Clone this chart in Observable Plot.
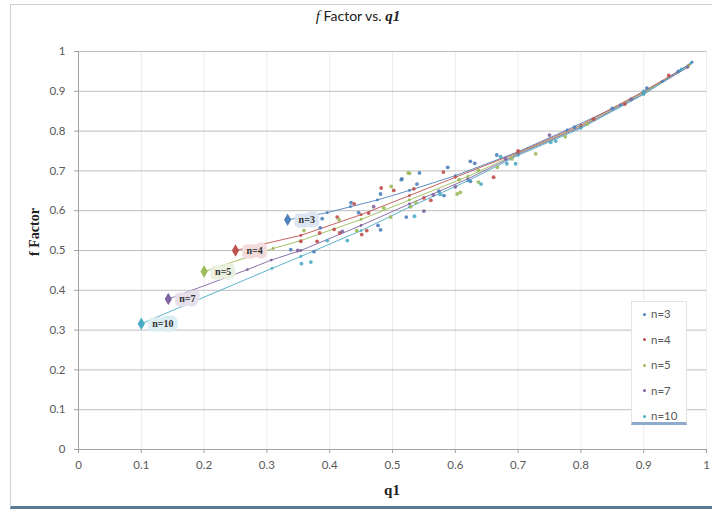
<!DOCTYPE html>
<html><head><meta charset="utf-8">
<script src="https://cdn.jsdelivr.net/npm/d3@7"></script>
<script src="https://cdn.jsdelivr.net/npm/@observablehq/plot@0.6"></script>
<style>
body{margin:0;background:#fff;}
#wrap{position:relative;width:712px;height:512px;overflow:hidden;font-family:Lato,"Open Sans",sans-serif;}
#frame{position:absolute;left:10px;top:4px;width:704px;height:505px;border:1px solid #cfcfcf;border-bottom:3px solid #5b7896;box-sizing:border-box;}
#chart{position:absolute;left:0;top:0;}
#title{position:absolute;left:4px;width:708px;top:7px;text-align:center;font-size:14px;color:#222;}
.serif{font-family:"Liberation Serif","DejaVu Serif",serif;}
#ylab{position:absolute;left:35px;top:232px;transform:translate(-50%,-50%) rotate(-90deg);font-size:14px;font-weight:bold;color:#222;white-space:nowrap;}
#xlab{position:absolute;left:392px;top:490px;transform:translate(-50%,-50%);font-size:15px;font-weight:bold;color:#222;}
#legend{position:absolute;left:631px;top:301px;width:56px;height:124px;background:#fff;border:1px solid #e4e4e4;border-bottom:3px solid #8eabcd;box-sizing:border-box;font-size:11.5px;color:#595959;}
.li{position:absolute;left:0;height:14px;line-height:14px;white-space:nowrap;}
.li span.d{display:inline-block;width:3px;height:3px;border-radius:50%;margin:0 5px 2px 11px;vertical-align:middle;}
</style></head>
<body>
<div id="wrap">
<div id="frame"></div>
<div id="chart"></div>
<div id="title"><i class="serif" style="font-size:15px">f</i> Factor vs. <b><i class="serif" style="font-size:15px">q1</i></b></div>
<div id="ylab" class="serif">f Factor</div>
<div id="xlab" class="serif">q1</div>
<div id="legend"></div>
</div>
<script>
const seriesNames = ["n=3","n=4","n=5","n=7","n=10"];
const seriesColors = ["#4F81BD","#C0504D","#9BBB59","#8064A2","#4BACC6"];
const labelFills = ["#dce6f2","#f2dcdb","#ebf1de","#e5e0ec","#dbeef3"];
const xTicks = [0,0.1,0.2,0.3,0.4,0.5,0.6,0.7,0.8,0.9,1];
const xTickLabels = ["0","0.1","0.2","0.3","0.4","0.5","0.6","0.7","0.8","0.9","1"];
const yTicks = [0,0.1,0.2,0.3,0.4,0.5,0.6,0.7,0.8,0.9,1];
const yTickLabels = ["0","0.1","0.2","0.3","0.4","0.5","0.6","0.7","0.8","0.9","1"];

// start points (labelled diamonds)
const startQ = [0.333,0.25,0.2,0.143,0.1];
const startF = [0.577,0.5,0.447,0.378,0.316];

// line series (q1, f)
const lineN3 = [[0.333,0.577],[0.396,0.595],[0.433,0.61],[0.476,0.627],[0.527,0.651],[0.6,0.688],[0.7,0.748],[0.778,0.803],[0.863,0.866],[0.93,0.925],[0.977,0.973]];
const lineN4 = [[0.25,0.5],[0.354,0.538],[0.45,0.59],[0.527,0.638],[0.6,0.684],[0.7,0.746],[0.8,0.815],[0.9,0.9],[0.972,0.966]];
const lineN5 = [[0.2,0.447],[0.31,0.505],[0.354,0.525],[0.45,0.578],[0.527,0.627],[0.62,0.686],[0.7,0.744],[0.8,0.812],[0.9,0.897],[0.972,0.964]];
const lineN7 = [[0.143,0.378],[0.269,0.452],[0.307,0.476],[0.354,0.5],[0.45,0.563],[0.527,0.617],[0.62,0.68],[0.7,0.742],[0.8,0.81],[0.9,0.894],[0.97,0.96]];
const lineN10 = [[0.1,0.316],[0.308,0.455],[0.354,0.485],[0.45,0.55],[0.527,0.609],[0.62,0.675],[0.7,0.739],[0.8,0.807],[0.9,0.892],[0.975,0.97]];

// scatter points (q1, f)
const scatterN3 = [[0.338,0.502],[0.375,0.497],[0.388,0.58],[0.385,0.557],[0.434,0.62],[0.446,0.595],[0.477,0.563],[0.481,0.552],[0.481,0.642],[0.514,0.678],[0.522,0.584],[0.515,0.68],[0.539,0.667],[0.543,0.695],[0.574,0.649],[0.582,0.638],[0.588,0.709],[0.624,0.724],[0.631,0.719],[0.624,0.674],[0.666,0.74],[0.79,0.81],[0.85,0.857],[0.905,0.908],[0.955,0.95]];
const scatterN4 = [[0.354,0.523],[0.38,0.523],[0.384,0.544],[0.407,0.553],[0.412,0.584],[0.416,0.544],[0.439,0.617],[0.451,0.54],[0.459,0.55],[0.462,0.594],[0.482,0.657],[0.502,0.651],[0.534,0.655],[0.55,0.632],[0.561,0.626],[0.581,0.697],[0.661,0.684],[0.7,0.75],[0.82,0.83],[0.87,0.868],[0.94,0.94]];
const scatterN5 = [[0.359,0.55],[0.415,0.577],[0.443,0.55],[0.486,0.607],[0.497,0.584],[0.498,0.661],[0.525,0.695],[0.527,0.694],[0.529,0.61],[0.537,0.621],[0.603,0.642],[0.606,0.678],[0.608,0.646],[0.637,0.701],[0.637,0.672],[0.667,0.709],[0.69,0.73],[0.728,0.743],[0.775,0.786],[0.81,0.818]];
const scatterN7 = [[0.349,0.5],[0.42,0.548],[0.47,0.61],[0.55,0.599],[0.565,0.64],[0.6,0.66],[0.68,0.73],[0.75,0.79],[0.88,0.88]];
const scatterN10 = [[0.355,0.467],[0.37,0.471],[0.396,0.525],[0.428,0.525],[0.535,0.586],[0.576,0.641],[0.641,0.667],[0.672,0.736],[0.682,0.718],[0.696,0.718],[0.752,0.772],[0.76,0.775],[0.9,0.9],[0.96,0.955]];

const lineSets = [lineN3,lineN4,lineN5,lineN7,lineN10];
const scatterSets = [scatterN3,scatterN4,scatterN5,scatterN7,scatterN10];

const lines = seriesNames.flatMap((s,i)=>lineSets[i].map(([q,f])=>({s,q,f})));
const scatter = seriesNames.flatMap((s,i)=>scatterSets[i].map(([q,f])=>({s,q,f})));
const starts = seriesNames.map((s,i)=>({s,q:startQ[i],f:startF[i],i}));

const color = {domain:seriesNames, range:seriesColors};

const plot = Plot.plot({
  width:712, height:512,
  marginLeft:78, marginRight:6, marginTop:51, marginBottom:63,
  x:{domain:[0,1]},
  y:{domain:[0,1]},
  color,
  style:{fontFamily:"Lato, 'Open Sans', sans-serif", fontSize:"11.5px", color:"#595959", background:"transparent"},
  marks:[
    Plot.gridX(xTicks.slice(1),{stroke:"#ececec", strokeOpacity:1}),
    Plot.gridY(yTicks.slice(1),{stroke:"#bdbdbd", strokeOpacity:1}),
    Plot.axisY(yTicks,{tickSize:4, tickPadding:9, stroke:"#a0a0a0", label:null, tickFormat:(d,i)=>yTickLabels[i]}),
    Plot.axisX(xTicks,{tickSize:4, tickPadding:7, stroke:"#a0a0a0", label:null, tickFormat:(d,i)=>xTickLabels[i]}),
    Plot.ruleX([0],{stroke:"#a0a0a0"}),
    Plot.ruleY([0],{stroke:"#a0a0a0"}),
    Plot.line(lines,{x:"q", y:"f", z:"s", stroke:"s", strokeWidth:1, strokeOpacity:0.9}),
    Plot.dot(lines,{x:"q", y:"f", fill:"s", r:1.4}),
    Plot.dot(scatter,{x:"q", y:"f", fill:"s", r:1.9, fillOpacity:0.9}),
    ...seriesNames.map((s,i)=>Plot.text(starts.filter(d=>d.i===i),{x:"q", y:"f", text:"s", dx:11, textAnchor:"start",
      fill:"#333", stroke:labelFills[i], strokeWidth:9, strokeLinejoin:"round", paintOrder:"stroke",
      fontFamily:"'Liberation Serif', serif", fontWeight:"bold", fontSize:10})),
    Plot.dot(starts,{x:"q", y:"f", fill:"s", symbol:"diamond", r:3.8})
  ]
});
document.getElementById("chart").appendChild(plot);

const leg = document.getElementById("legend");
seriesNames.forEach((s,i)=>{
  const div = document.createElement("div");
  div.className = "li";
  div.style.top = (5 + i*25.5) + "px";
  div.innerHTML = `<span class="d" style="background:${seriesColors[i]}"></span>${s}`;
  leg.appendChild(div);
});
</script>
</body></html>
